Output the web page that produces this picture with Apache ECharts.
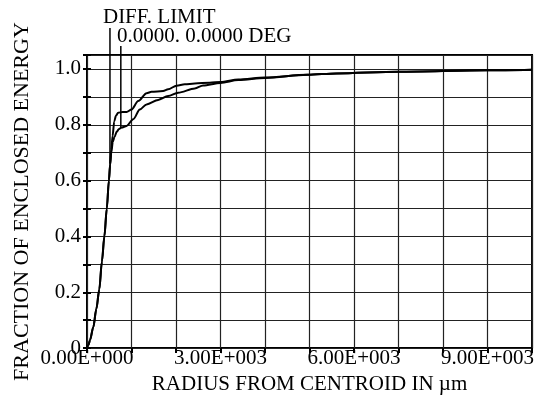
<!DOCTYPE html>
<html>
<head>
<meta charset="utf-8">
<script src="https://cdn.jsdelivr.net/npm/echarts@6/dist/echarts.min.js"></script>
<style>
    html, body { margin: 0; padding: 0; background: #fff; }
    #chart { width: 537px; height: 400px; }
</style>
</head>
<body>
<div id="chart"></div>
<script>
    // 衍射极限曲线 (DIFF. LIMIT)
    var diffRadius = [0, 30, 70, 141, 210, 276, 335, 390, 445, 492, 520, 545, 575, 612, 650, 700, 800, 890, 1002, 1150, 1339, 1451, 1711, 1823, 2011, 2197, 2422, 2758, 3000, 3400, 4000, 4950, 5600, 7000, 9000, 10000];
    var diffEnergy = [0, 0.01, 0.03, 0.075, 0.14, 0.21, 0.31, 0.40, 0.50, 0.60, 0.66, 0.71, 0.76, 0.812, 0.832, 0.843, 0.846, 0.846, 0.855, 0.885, 0.913, 0.918, 0.921, 0.927, 0.94, 0.945, 0.948, 0.951, 0.953, 0.962, 0.969, 0.979, 0.984, 0.99, 0.995, 0.997];

    // 0.0000, 0.0000 DEG 视场曲线
    var degRadius = [0, 30, 70, 141, 210, 276, 335, 390, 445, 492, 520, 545, 580, 620, 666, 720, 778, 890, 1038, 1188, 1339, 1599, 1823, 2047, 2422, 2608, 3000, 3400, 4000, 4950, 5600, 7000, 9000, 10000];
    var degEnergy = [0, 0.01, 0.03, 0.075, 0.14, 0.21, 0.31, 0.40, 0.50, 0.60, 0.655, 0.70, 0.74, 0.757, 0.775, 0.785, 0.79, 0.796, 0.82, 0.855, 0.873, 0.889, 0.903, 0.915, 0.93, 0.941, 0.95, 0.96, 0.968, 0.979, 0.984, 0.99, 0.995, 0.997];

    // 刻度标签
    var xTickLabels = ['0.00E+000', '3.00E+003', '6.00E+003', '9.00E+003'];
    var yTickLabels = ['0', '0.2', '0.4', '0.6', '0.8', '1.0'];

    // 标注线的落点 (数据坐标)
    var diffMark = [516, 0.66];
    var degMark = [760, 0.788];

    var font = "'Liberation Serif', 'Times New Roman', serif";

    function pairs(xs, ys) {
        var out = [];
        for (var i = 0; i < xs.length; i++) {
            out.push([xs[i], ys[i]]);
        }
        return out;
    }

    var chart = echarts.init(document.getElementById('chart'));
    chart.setOption({
        animation: false,
        textStyle: { fontFamily: font },
        grid: {
            left: 87,
            right: 4,
            top: 55,
            bottom: 50,
            show: true,
            borderColor: '#000',
            borderWidth: 2
        },
        xAxis: [
            {
                type: 'value',
                min: 0,
                max: 10000,
                interval: 1000,
                name: 'RADIUS FROM CENTROID IN \u00b5m',
                nameLocation: 'middle',
                nameGap: 22,
                nameTextStyle: { color: '#000', fontSize: 21, fontFamily: font },
                axisLine: { show: false },
                axisTick: { show: false },
                splitLine: { lineStyle: { color: '#222', width: 1.2 } },
                axisLabel: {
                    color: '#000',
                    fontSize: 21,
                    fontFamily: font,
                    margin: 0,
                    formatter: function (v) {
                        if (v % 3000 !== 0) return '';
                        return xTickLabels[v / 3000] || '';
                    }
                }
            },
            {
                type: 'value',
                position: 'top',
                min: 0,
                max: 10000,
                interval: 1000,
                axisLine: { show: false },
                axisLabel: { show: false },
                splitLine: { show: false },
                axisTick: { show: true, inside: true, length: 5, lineStyle: { color: '#000', width: 2 } }
            }
        ],
        yAxis: [
            {
                type: 'value',
                min: 0,
                max: 1.05,
                interval: 0.1,
                name: 'FRACTION OF ENCLOSED ENERGY',
                nameLocation: 'middle',
                nameGap: 54,
                nameTextStyle: { color: '#000', fontSize: 22, fontFamily: font },
                axisLine: { show: false },
                axisTick: { show: true, inside: true, length: 4, lineStyle: { color: '#000', width: 2 } },
                splitLine: { lineStyle: { color: '#222', width: 1.2 } },
                axisLabel: {
                    color: '#000',
                    fontSize: 21,
                    fontFamily: font,
                    margin: 6,
                    formatter: function (v) {
                        var k = Math.round(v * 10);
                        if (Math.abs(v * 10 - k) > 1e-6 || k % 2 !== 0) return '';
                        return yTickLabels[k / 2] || '';
                    }
                }
            },
            {
                type: 'value',
                position: 'right',
                min: 0,
                max: 1.05,
                interval: 0.1,
                axisLine: { show: false },
                axisLabel: { show: false },
                splitLine: { show: false },
                axisTick: { show: true, inside: true, length: 4, lineStyle: { color: '#000', width: 2 } }
            }
        ],
        series: [
            {
                name: 'DIFF. LIMIT',
                type: 'line',
                data: pairs(diffRadius, diffEnergy),
                showSymbol: false,
                smooth: 0.3,
                smoothMonotone: 'x',
                lineStyle: { color: '#000', width: 2 }
            },
            {
                name: '0.0000. 0.0000 DEG',
                type: 'line',
                data: pairs(degRadius, degEnergy),
                showSymbol: false,
                smooth: 0.3,
                smoothMonotone: 'x',
                lineStyle: { color: '#000', width: 2 }
            }
        ]
    });

    // 曲线标注：竖线 + 文字
    var p1 = chart.convertToPixel({ gridIndex: 0 }, diffMark);
    var p2 = chart.convertToPixel({ gridIndex: 0 }, degMark);
    chart.setOption({
        graphic: [
            { type: 'line', shape: { x1: p1[0], y1: p1[1], x2: p1[0], y2: 28 }, style: { stroke: '#000', lineWidth: 1.5 } },
            { type: 'line', shape: { x1: p2[0], y1: p2[1], x2: p2[0], y2: 46 }, style: { stroke: '#000', lineWidth: 1.5 } },
            { type: 'text', x: p1[0] - 7, y: 17, style: { text: 'DIFF. LIMIT', fill: '#000', font: '21px ' + font, verticalAlign: 'middle' } },
            { type: 'text', x: p1[0] + 7, y: 36, style: { text: '0.0000. 0.0000 DEG', fill: '#000', font: '21px ' + font, verticalAlign: 'middle' } }
        ]
    });
</script>
</body>
</html>
